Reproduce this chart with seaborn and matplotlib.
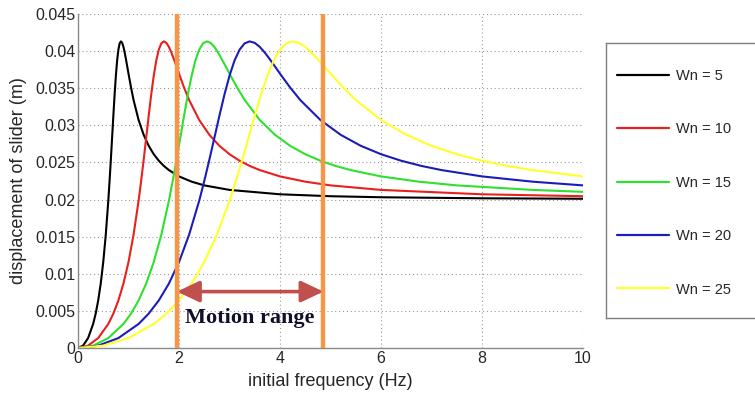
import numpy as np
import pandas as pd
import seaborn as sns
import matplotlib.pyplot as plt
from matplotlib.ticker import FuncFormatter


# 1. DATA

freq_wn5 = [0, 0.1, 0.2, 0.3, 0.35, 0.4, 0.45, 0.5, 0.55, 0.6, 0.625, 0.65, 0.675, 0.7,
            0.725, 0.75, 0.775, 0.8, 0.825, 0.85, 0.875, 0.9, 0.925, 0.95, 0.975, 1.0,
            1.05, 1.1, 1.2, 1.3, 1.4, 1.5, 1.6, 1.7, 1.8, 2.0, 2.25, 2.5, 3.0, 4.0, 5.0,
            6.0, 8.0, 10.0]
disp_wn5 = [0, 0.00032, 0.00134, 0.00324, 0.00463, 0.00641, 0.00868, 0.01158, 0.01526,
            0.01984, 0.02249, 0.02533, 0.0283, 0.03129, 0.03415, 0.03668, 0.03874, 0.0402,
            0.04105, 0.04131, 0.04111, 0.04057, 0.03979, 0.03889, 0.03793, 0.03696,
            0.0351, 0.03342, 0.03072, 0.02873, 0.02724, 0.02611, 0.02523, 0.02453,
            0.02397, 0.02312, 0.02241, 0.02191, 0.0213, 0.02071, 0.02045, 0.02031,
            0.02017, 0.02011]

freq_wn10 = [0, 0.2, 0.4, 0.6, 0.7, 0.8, 0.9, 1.0, 1.1, 1.2, 1.25, 1.3, 1.35, 1.4, 1.45,
             1.5, 1.55, 1.6, 1.65, 1.7, 1.75, 1.8, 1.85, 1.9, 1.95, 2.0, 2.1, 2.2, 2.4,
             2.6, 2.8, 3.0, 3.2, 3.4, 3.6, 4.0, 4.5, 5.0, 6.0, 8.0, 10.0]
disp_wn10 = [0, 0.00032, 0.00134, 0.00324, 0.00463, 0.00641, 0.00868, 0.01158, 0.01526,
             0.01984, 0.02249, 0.02533, 0.0283, 0.03129, 0.03415, 0.03668, 0.03874, 0.0402,
             0.04105, 0.04131, 0.04111, 0.04057, 0.03979, 0.03889, 0.03793, 0.03696,
             0.0351, 0.03342, 0.03072, 0.02873, 0.02724, 0.02611, 0.02523, 0.02453,
             0.02397, 0.02312, 0.02241, 0.02191, 0.0213, 0.02071, 0.02045]

freq_wn15 = [0, 0.3, 0.6, 0.9, 1.05, 1.2, 1.35, 1.5, 1.65, 1.8, 1.875, 1.95, 2.025, 2.1,
             2.175, 2.25, 2.325, 2.4, 2.475, 2.55, 2.625, 2.7, 2.775, 2.85, 2.925, 3.0,
             3.15, 3.3, 3.6, 3.9, 4.2, 4.5, 4.8, 5.1, 5.4, 6.0, 6.75, 7.5, 9.0, 10.0]
disp_wn15 = [0, 0.00032, 0.00134, 0.00324, 0.00463, 0.00641, 0.00868, 0.01158, 0.01526,
             0.01984, 0.02249, 0.02533, 0.0283, 0.03129, 0.03415, 0.03668, 0.03874, 0.0402,
             0.04105, 0.04131, 0.04111, 0.04057, 0.03979, 0.03889, 0.03793, 0.03696,
             0.0351, 0.03342, 0.03072, 0.02873, 0.02724, 0.02611, 0.02523, 0.02453,
             0.02397, 0.02312, 0.02241, 0.02191, 0.0213, 0.02104]

freq_wn20 = [0, 0.4, 0.8, 1.2, 1.4, 1.6, 1.8, 2.0, 2.2, 2.4, 2.5, 2.6, 2.7, 2.8, 2.9,
             3.0, 3.1, 3.2, 3.3, 3.4, 3.5, 3.6, 3.7, 3.8, 3.9, 4.0, 4.2, 4.4, 4.8, 5.2,
             5.6, 6.0, 6.4, 6.8, 7.2, 8.0, 9.0, 10.0]
disp_wn20 = [0, 0.00032, 0.00134, 0.00324, 0.00463, 0.00641, 0.00868, 0.01158, 0.01526,
             0.01984, 0.02249, 0.02533, 0.0283, 0.03129, 0.03415, 0.03668, 0.03874, 0.0402,
             0.04105, 0.04131, 0.04111, 0.04057, 0.03979, 0.03889, 0.03793, 0.03696,
             0.0351, 0.03342, 0.03072, 0.02873, 0.02724, 0.02611, 0.02523, 0.02453,
             0.02397, 0.02312, 0.02241, 0.02191]

freq_wn25 = [0, 0.5, 1.0, 1.5, 1.75, 2.0, 2.25, 2.5, 2.75, 3.0, 3.125, 3.25, 3.375, 3.5,
             3.625, 3.75, 3.875, 4.0, 4.125, 4.25, 4.375, 4.5, 4.625, 4.75, 4.875, 5.0,
             5.25, 5.5, 6.0, 6.5, 7.0, 7.5, 8.0, 8.5, 9.0, 10.0]
disp_wn25 = [0, 0.00032, 0.00134, 0.00324, 0.00463, 0.00641, 0.00868, 0.01158, 0.01526,
             0.01984, 0.02249, 0.02533, 0.0283, 0.03129, 0.03415, 0.03668, 0.03874, 0.0402,
             0.04105, 0.04131, 0.04111, 0.04057, 0.03979, 0.03889, 0.03793, 0.03696,
             0.0351, 0.03342, 0.03072, 0.02873, 0.02724, 0.02611, 0.02523, 0.02453,
             0.02397, 0.02312]

series_labels = ["Wn = 5", "Wn = 10", "Wn = 15", "Wn = 20", "Wn = 25"]
series_colors = ["#000000", "#e8201e", "#2fe02f", "#1c1cb8", "#ffff2a"]

motion_range = [1.96, 4.86]

x_ticks = [0, 2, 4, 6, 8, 10]
y_ticks = [0, 0.005, 0.01, 0.015, 0.02, 0.025, 0.03, 0.035, 0.04, 0.045]


# 2. LONG TABLE FOR SEABORN

parts = []
for lab, f, d in zip(series_labels,
                     [freq_wn5, freq_wn10, freq_wn15, freq_wn20, freq_wn25],
                     [disp_wn5, disp_wn10, disp_wn15, disp_wn20, disp_wn25]):
    parts.append(pd.DataFrame({"freq": f, "disp": d, "series": lab}))
df = pd.concat(parts, ignore_index=True)


# 3. PLOT

sns.set_style("white")
plt.rcParams["font.family"] = ["Liberation Sans", "DejaVu Sans"]

fig = plt.figure(figsize=(7.55, 3.93), dpi=100)
ax = fig.add_axes([78 / 755, 45 / 393, 505 / 755, 334 / 393])

sns.lineplot(data=df, x="freq", y="disp", hue="series", hue_order=series_labels,
             palette=series_colors, linewidth=1.5, ax=ax, legend=True)

ax.set_xlim(0, 10)
ax.set_ylim(0, 0.045)
ax.set_xticks(x_ticks)
ax.set_yticks(y_ticks)
ax.yaxis.set_major_formatter(FuncFormatter(lambda v, p: ("%.3f" % v).rstrip("0").rstrip(".")))
ax.grid(True, color="#9a9a9a", linestyle=(0, (1, 2.5)), linewidth=0.8)
ax.tick_params(direction="in", length=3, color="#7a7a7a", labelsize=11.5, pad=2)
for s in ["top", "right"]:
    ax.spines[s].set_visible(False)
for s in ["left", "bottom"]:
    ax.spines[s].set_color("#8a8a8a")
    ax.spines[s].set_linewidth(1.0)

ax.set_xlabel("initial frequency (Hz)", fontsize=13, labelpad=5)
ax.set_ylabel("displacement of slider (m)", fontsize=13, labelpad=6)

# motion range markers
for xv in motion_range:
    ax.axvline(xv, color="#f79646", linewidth=3.2, zorder=5)
ax.annotate("", xy=(motion_range[0], 0.0076), xytext=(motion_range[1], 0.0076),
            arrowprops=dict(arrowstyle="<|-|>,head_length=0.8,head_width=0.38",
                            color="#c0504d", lw=2.6, mutation_scale=17,
                            shrinkA=0, shrinkB=0), zorder=6)
ax.text(sum(motion_range) / 2, 0.0041, "Motion range", ha="center", va="center",
        fontsize=16, fontweight="bold", family=["Liberation Serif", "DejaVu Serif"],
        color="#10102a", zorder=6)

# legend in its own box on the right
handles, labels = ax.get_legend_handles_labels()
ax.get_legend().remove()
lax = fig.add_axes([606 / 755, (393 - 318) / 393, 160 / 755, 275 / 393])
lax.set_xticks([])
lax.set_yticks([])
for s in lax.spines.values():
    s.set_color("#7f7f7f")
    s.set_linewidth(1.0)
leg = lax.legend(handles, labels, loc="upper left", bbox_to_anchor=(0.0, 0.945),
                 frameon=False, fontsize=10.5, labelspacing=2.7, handlelength=3.6,
                 handletextpad=0.45, borderpad=0.75, borderaxespad=0.0)
for h in leg.get_lines():
    h.set_linewidth(1.6)

fig.savefig("out.png", dpi=100)
plt.close()
